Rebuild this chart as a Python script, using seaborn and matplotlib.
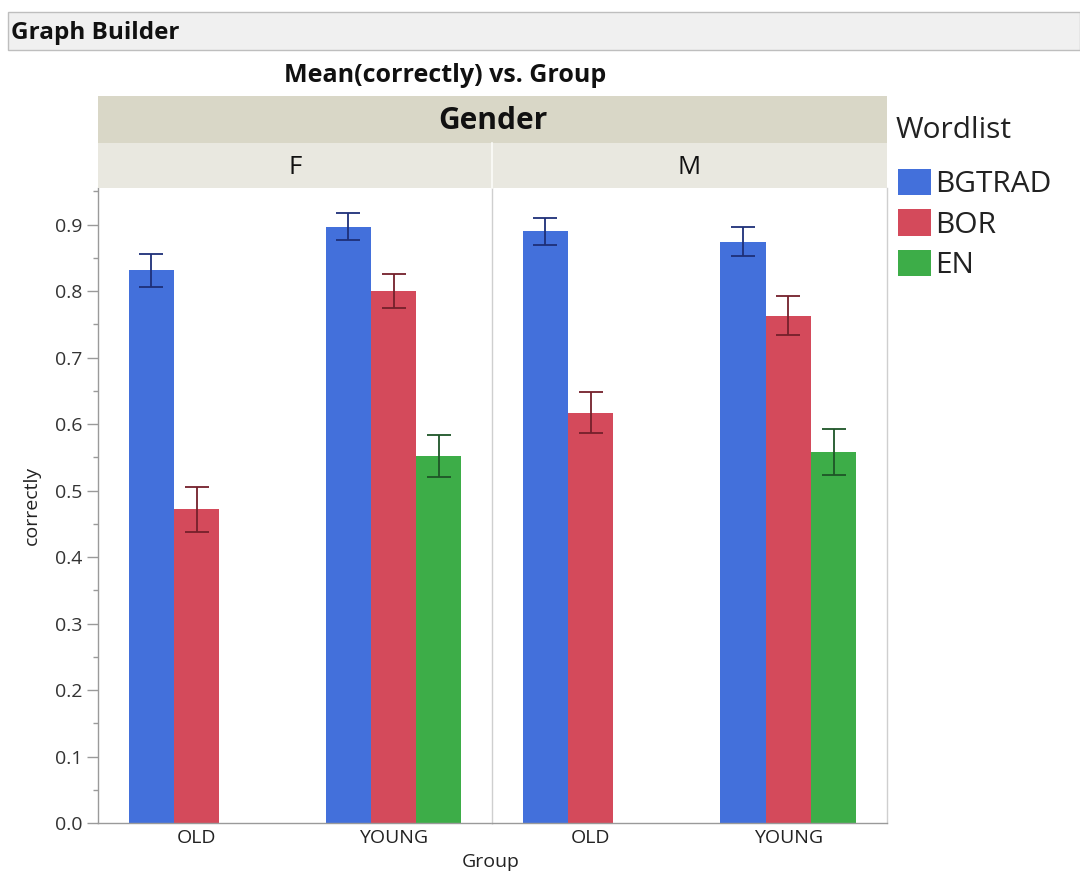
import numpy as np
import pandas as pd
import matplotlib
matplotlib.use("Agg")
import matplotlib.pyplot as plt
from matplotlib.patches import Rectangle, Patch
from matplotlib.ticker import MultipleLocator
import seaborn as sns

# ---- data -------------------------------------------------------------
genders = ["F", "M"]
groups = ["OLD", "YOUNG"]
wordlists = ["BGTRAD", "BOR", "EN"]

# mean(correctly) per Gender x Group x Wordlist (OLD has no EN list)
gender_col = ["F", "F", "F", "F", "F", "M", "M", "M", "M", "M"]
group_col = ["OLD", "OLD", "YOUNG", "YOUNG", "YOUNG",
             "OLD", "OLD", "YOUNG", "YOUNG", "YOUNG"]
wordlist_col = ["BGTRAD", "BOR", "BGTRAD", "BOR", "EN",
                "BGTRAD", "BOR", "BGTRAD", "BOR", "EN"]
mean_correct = [0.831, 0.472, 0.897, 0.800, 0.552,
                0.890, 0.617, 0.874, 0.763, 0.558]
std_err = [0.025, 0.034, 0.020, 0.026, 0.032,
           0.020, 0.031, 0.022, 0.029, 0.035]

y_ticks = [0.0, 0.1, 0.2, 0.3, 0.4, 0.5, 0.6, 0.7, 0.8, 0.9]

df = pd.DataFrame({
    "Gender": gender_col,
    "Group": group_col,
    "Wordlist": wordlist_col,
    "correctly": mean_correct,
    "err": std_err,
})

# ---- style ------------------------------------------------------------
sns.set_style("white")
plt.rcParams["font.family"] = ["Open Sans", "DejaVu Sans"]

bar_colors = {"BGTRAD": "#4370DB", "BOR": "#D44A5B", "EN": "#3DAD48"}
err_colors = {"BGTRAD": "#1E2F78", "BOR": "#74202B", "EN": "#1E5527"}
axis_gray = "#9A9A9A"
frame_gray = "#CFCFCF"
text_dark = "#222222"

W, H = 1080, 875
fig = plt.figure(figsize=(W / 100, H / 100), dpi=100)
fig.patch.set_facecolor("white")


def fx(px):
    return px / W


def fy(py):
    return 1 - py / H


# ---- header bar -------------------------------------------------------
fig.add_artist(Rectangle((fx(8), fy(50)), fx(1080 - 8), (50 - 12) / H,
                         transform=fig.transFigure, facecolor="#F0F0F0",
                         edgecolor="#BEBEBE", lw=1.0))
fig.text(fx(11), fy(33), "Graph Builder", fontsize=17.5, fontweight="bold",
         color="#111111", va="center", ha="left")

fig.text(fx(445), fy(75), "Mean(correctly) vs. Group", fontsize=18,
         fontweight="bold", color="#111111", va="center", ha="center")

# ---- panels -----------------------------------------------------------
left, mid, right = 98, 492, 887
top, bottom = 188, 823
ax_h = (bottom - top) / H
ax1 = fig.add_axes([fx(left), fy(bottom), fx(mid - left), ax_h])
ax2 = fig.add_axes([fx(mid), fy(bottom), fx(right - mid), ax_h], sharey=ax1)

bar_width = 0.69
n_hue = len(wordlists)
for ax, g in zip([ax1, ax2], genders):
    sub = df[df["Gender"] == g]
    sns.barplot(data=sub, x="Group", y="correctly", hue="Wordlist",
                order=groups, hue_order=wordlists, palette=bar_colors,
                width=bar_width, gap=0, saturation=1, errorbar=None,
                legend=False, linewidth=0, ax=ax)
    # error bars at the dodged bar centres
    for j, w in enumerate(wordlists):
        rows = sub[sub["Wordlist"] == w]
        xs = [groups.index(gr) + (j - (n_hue - 1) / 2) * bar_width / n_hue
              for gr in rows["Group"]]
        ax.errorbar(xs, rows["correctly"], yerr=rows["err"], fmt="none",
                    ecolor=err_colors[w], elinewidth=1.3, capsize=8.5,
                    capthick=1.3, zorder=5)
    ax.set_xlim(-0.5, 1.5)
    ax.set_xlabel("")
    ax.set_ylabel("")
    ax.tick_params(axis="x", length=0, labelsize=14, colors=text_dark, pad=4)
    ax.spines["top"].set_visible(False)
    ax.spines["bottom"].set_color(axis_gray)
    ax.spines["bottom"].set_linewidth(1.0)

ax1.set_ylim(0, 0.955)
ax1.yaxis.set_minor_locator(MultipleLocator(0.05))
ax1.set_yticks(y_ticks)
ax1.set_yticklabels([f"{t:.1f}" for t in y_ticks])
ax1.tick_params(axis="y", which="major", length=8, width=1.0,
                color=axis_gray, labelsize=14, labelcolor="#333333", pad=3,
                left=True)
ax1.tick_params(axis="y", which="minor", length=3.8, width=1.0,
                color=axis_gray, left=True)
ax1.spines["left"].set_color(axis_gray)
ax1.spines["left"].set_linewidth(1.0)
ax1.spines["right"].set_visible(False)
ax1.set_ylabel("correctly", fontsize=14, color=text_dark, labelpad=10)

ax2.tick_params(axis="y", which="both", left=False, labelleft=False)
ax2.spines["left"].set_color(frame_gray)
ax2.spines["right"].set_color(frame_gray)
ax2.spines["left"].set_linewidth(1.0)
ax2.spines["right"].set_linewidth(1.0)

fig.text(fx((left + right) / 2 - 2), fy(862), "Group", fontsize=14,
         color=text_dark, ha="center", va="center")

# ---- facet strips -----------------------------------------------------
fig.add_artist(Rectangle((fx(left), fy(143)), fx(right - left), (143 - 96) / H,
                         transform=fig.transFigure, facecolor="#D9D7C7",
                         edgecolor="none"))
fig.add_artist(Rectangle((fx(left), fy(top)), fx(right - left), (top - 143) / H,
                         transform=fig.transFigure, facecolor="#E9E8E0",
                         edgecolor="none"))
fig.add_artist(plt.Line2D([fx(mid), fx(mid)], [fy(top), fy(143)],
                          transform=fig.transFigure, color="#F8F8F4", lw=1.5))
fig.text(fx((left + right) / 2), fy(121), "Gender", fontsize=21.5,
         fontweight="bold", color="#111111", ha="center", va="center")
for g, cx in zip(genders, [(left + mid) / 2, (mid + right) / 2]):
    fig.text(fx(cx), fy(167), g, fontsize=18.5, color="#111111",
             ha="center", va="center")

# ---- legend -----------------------------------------------------------
fig.text(fx(896), fy(131), "Wordlist", fontsize=21.5, color="#222222",
         ha="left", va="center")
handles = [Patch(facecolor=bar_colors[w], edgecolor="none", label=w)
           for w in wordlists]
leg = fig.legend(handles=handles, loc="upper left",
                 bbox_to_anchor=(fx(898), fy(169)), frameon=False,
                 fontsize=21.5, handlelength=1.1, handleheight=0.98,
                 handletextpad=0.15, labelspacing=0.33,
                 borderpad=0, borderaxespad=0)
for t in leg.get_texts():
    t.set_color("#222222")

fig.savefig("out.png", dpi=100, facecolor="white")
